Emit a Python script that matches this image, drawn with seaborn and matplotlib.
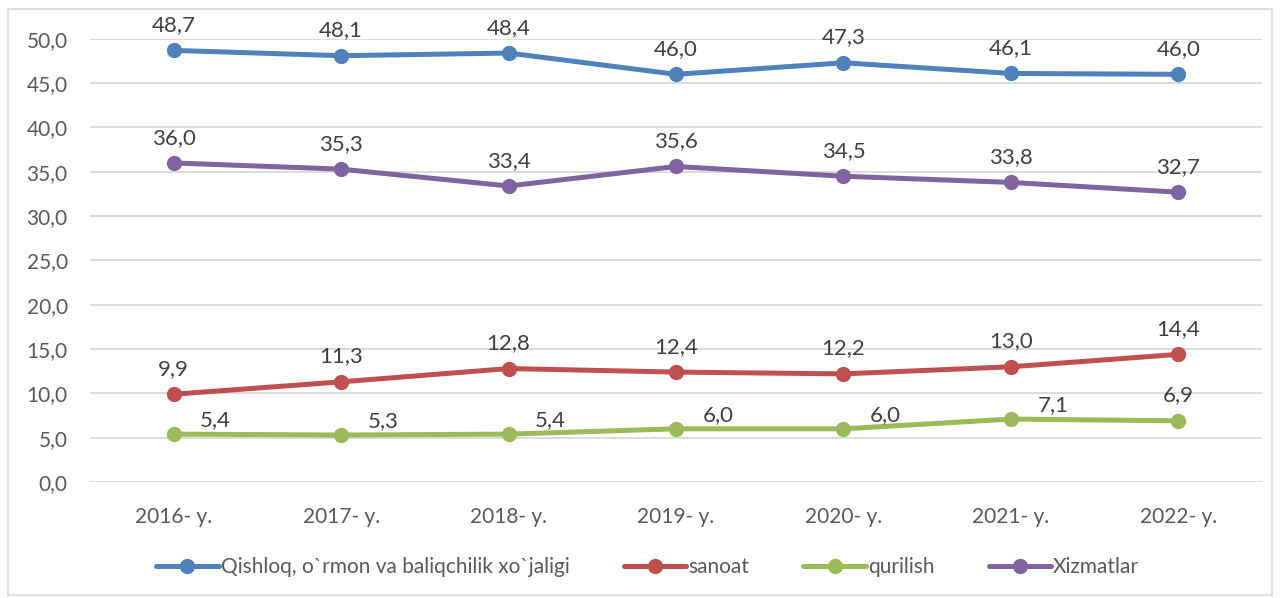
import pandas as pd
import matplotlib.pyplot as plt
import seaborn as sns
from matplotlib.patches import Rectangle
from matplotlib.ticker import FuncFormatter

years = ["2016- y.", "2017- y.", "2018- y.", "2019- y.", "2020- y.", "2021- y.", "2022- y."]
series_names = ["Qishloq, o`rmon va baliqchilik xo`jaligi", "sanoat", "qurilish", "Xizmatlar"]
qishloq = [48.7, 48.1, 48.4, 46.0, 47.3, 46.1, 46.0]
sanoat = [9.9, 11.3, 12.8, 12.4, 12.2, 13.0, 14.4]
qurilish = [5.4, 5.3, 5.4, 6.0, 6.0, 7.1, 6.9]
xizmatlar = [36.0, 35.3, 33.4, 35.6, 34.5, 33.8, 32.7]
colors = ["#4F81BD", "#C0504D", "#9BBB59", "#8064A2"]

rows = []
for name, vals in zip(series_names, [qishloq, sanoat, qurilish, xizmatlar]):
    for i, (yr, v) in enumerate(zip(years, vals)):
        rows.append({"year": yr, "idx": i, "series": name, "value": v})
df = pd.DataFrame(rows)

sns.set_style("white")
plt.rcParams["font.family"] = ["Lato", "DejaVu Sans"]

fig = plt.figure(figsize=(12.8, 5.98), dpi=100)
ax = fig.add_axes([0.0703, 0.194, 0.9157, 0.741])

sns.lineplot(data=df, x="idx", y="value", hue="series", hue_order=series_names,
             palette=colors, marker="o", markersize=11, markeredgewidth=0,
             linewidth=3.6, legend=False, ax=ax, clip_on=False, zorder=3)

ax.set_xlim(-0.5, 6.5)
ax.set_ylim(0, 50)
ax.set_yticks([i * 5 for i in range(11)])
ax.yaxis.set_major_formatter(FuncFormatter(lambda v, p: f"{v:.1f}".replace(".", ",")))
ax.set_xticks(range(len(years)))
ax.set_xticklabels(years)
ax.grid(axis="y", color="#D9D9D9", linewidth=1.3)
ax.grid(axis="x", visible=False)
for s in ax.spines.values():
    s.set_visible(False)
ax.tick_params(axis="both", length=0, labelsize=15, colors="#595959")
ax.tick_params(axis="x", pad=18)
ax.tick_params(axis="y", pad=16)
ax.set_xlabel("")
ax.set_ylabel("")

# data labels
for name, vals in zip(series_names, [qishloq, sanoat, qurilish, xizmatlar]):
    for i, v in enumerate(vals):
        dx, dy, ha = 0, 11, "center"
        if name == "qurilish" and i < 6:
            dx, dy, ha = 19, 3, "left"
        ax.annotate(f"{v:.1f}".replace(".", ","), (i, v), xytext=(dx, dy),
                    textcoords="offset points", ha=ha, va="bottom",
                    fontsize=16, color="#404040", annotation_clip=False)

handles = ax.lines[:4]
fig.legend(handles, series_names, loc="center", bbox_to_anchor=(0.506, 0.052),
           ncol=4, frameon=False, fontsize=15, labelcolor="#595959",
           handlelength=3.0, handletextpad=0.1, columnspacing=2.6)

fig.patches.append(Rectangle((0.006, 0.005), 0.988, 0.98, transform=fig.transFigure,
                             fill=False, edgecolor="#D9D9D9", linewidth=1.2))

fig.savefig("out.png", dpi=100)
